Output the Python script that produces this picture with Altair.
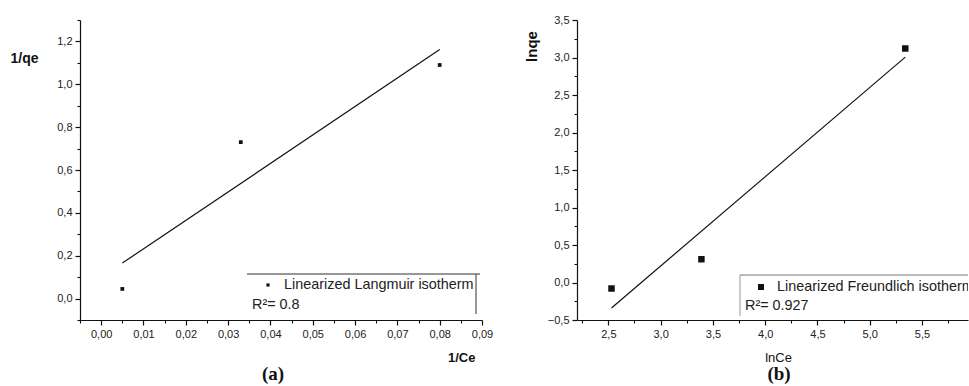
import altair as alt
import pandas as pd

# ---- data: panel (a) linearized Langmuir ----
inv_ce = [0.005, 0.033, 0.080]
inv_qe = [0.045, 0.73, 1.09]
# ---- data: panel (b) linearized Freundlich ----
ln_ce = [2.53, 3.39, 5.34]
ln_qe = [-0.08, 0.31, 3.12]

# tick positions
a_x_major = [0.0, 0.01, 0.02, 0.03, 0.04, 0.05, 0.06, 0.07, 0.08, 0.09]
a_x_minor = [-0.005, 0.005, 0.015, 0.025, 0.035, 0.045, 0.055, 0.065, 0.075, 0.085]
a_y_major = [0.0, 0.2, 0.4, 0.6, 0.8, 1.0, 1.2]
a_y_minor = [-0.1, 0.1, 0.3, 0.5, 0.7, 0.9, 1.1, 1.3]
b_x_major = [2.5, 3.0, 3.5, 4.0, 4.5, 5.0, 5.5]
b_x_minor = [2.25, 2.75, 3.25, 3.75, 4.25, 4.75, 5.25, 5.75]
b_y_major = [-0.5, 0.0, 0.5, 1.0, 1.5, 2.0, 2.5, 3.0, 3.5]
b_y_minor = [-0.25, 0.25, 0.75, 1.25, 1.75, 2.25, 2.75, 3.25]

a_legend = ["Linearized Langmuir isotherm"]
a_r2 = ["R\u00b2= 0.8"]
b_legend = ["Linearized Freundlich isotherm"]
b_r2 = ["R\u00b2= 0.927"]

INK = "#111111"
FONT = "Liberation Sans"


def major_axis(values, digits, orient, **kw):
    return alt.Axis(
        values=values, orient=orient,
        labelExpr=f"replace(format(datum.value, '.{digits}f'), '.', ',')",
        tickSize=5, labelOverlap=False, labelBound=False, labelFlush=False,
        grid=False, domainColor=INK, tickColor=INK, domainWidth=1.2, tickWidth=1.2,
        labelColor="#222222", labelFont=FONT, labelFontSize=11, labelPadding=3,
        titleColor=INK, titleFont=FONT, **kw)


def minor_axis(values, orient):
    return alt.Axis(values=values, orient=orient, labels=False, domain=False,
                    tickSize=3, tickColor=INK, tickWidth=1.1, grid=False, title=None)


def one(text):
    return pd.DataFrame({"t": text})


# ---------------- panel (a) ----------------
W_A, H = 402, 300
df_a = pd.DataFrame({"x": inv_ce, "y": inv_qe})
sx_a = alt.Scale(domain=[-0.005, 0.09], nice=False, zero=False)
sy_a = alt.Scale(domain=[-0.1, 1.3], nice=False, zero=False)

base_a = alt.Chart(df_a)
pts_a = base_a.mark_square(size=14, color=INK, opacity=1).encode(
    x=alt.X("x:Q", scale=sx_a,
            axis=major_axis(a_x_major, 2, "bottom", title="1/Ce", titleFontWeight="bold",
                            titleFontSize=13, titleAlign="right", titleX=395, titleY=37,
                            titleBaseline="middle")),
    y=alt.Y("y:Q", scale=sy_a,
            axis=major_axis(a_y_major, 1, "left", title="1/qe", titleFontWeight="bold",
                            titleFontSize=14, titleAngle=0, titleAlign="left", titleX=-70,
                            titleY=38, titleBaseline="middle")))
fit_a = base_a.transform_regression("x", "y").mark_line(color=INK, strokeWidth=1.2).encode(
    x=alt.X("x:Q", scale=sx_a, axis=minor_axis(a_x_minor, "bottom")),
    y=alt.Y("y:Q", scale=sy_a, axis=minor_axis(a_y_minor, "left")))

leg_a_top = alt.Chart(one([""])).mark_rule(color="#333333", strokeWidth=1).encode(
    x=alt.value(167), x2=alt.value(400), y=alt.value(254))
leg_a_right = alt.Chart(one([""])).mark_rule(color="#333333", strokeWidth=1).encode(
    x=alt.value(396), y=alt.value(254), y2=alt.value(294))
leg_a_mark = alt.Chart(one([""])).mark_square(size=10, color=INK, opacity=1).encode(
    x=alt.value(188), y=alt.value(265))
leg_a_text = alt.Chart(one(a_legend)).mark_text(
    align="left", baseline="middle", font=FONT, fontSize=14.4, color="#222222").encode(
    x=alt.value(204), y=alt.value(265), text="t:N")
leg_a_r2 = alt.Chart(one(a_r2)).mark_text(
    align="left", baseline="middle", font=FONT, fontSize=14.4, color="#222222").encode(
    x=alt.value(172), y=alt.value(285), text="t:N")
cap_a = alt.Chart(one(["(a)"])).mark_text(
    align="center", baseline="middle", font="Liberation Serif", fontSize=19,
    fontWeight="bold", color=INK).encode(x=alt.value(193), y=alt.value(354), text="t:N")
anchor = alt.Chart(one([""])).mark_rule(opacity=0, strokeWidth=0).encode(
    x=alt.value(-80), x2=alt.value(-80), y=alt.value(-20), y2=alt.value(-20))

panel_a = alt.layer(pts_a, fit_a, leg_a_top, leg_a_right, leg_a_mark, leg_a_text,
                    leg_a_r2, cap_a, anchor).resolve_axis(
    x="independent", y="independent").properties(width=W_A, height=H)

# ---------------- panel (b) ----------------
W_B = 391
df_b = pd.DataFrame({"x": ln_ce, "y": ln_qe})
sx_b = alt.Scale(domain=[2.2, 5.94], nice=False, zero=False)
sy_b = alt.Scale(domain=[-0.5, 3.5], nice=False, zero=False)

base_b = alt.Chart(df_b)
pts_b = base_b.mark_square(size=42, color=INK, opacity=1).encode(
    x=alt.X("x:Q", scale=sx_b,
            axis=major_axis(b_x_major, 1, "bottom", title="lnCe", titleFontWeight="normal",
                            titleFontSize=13, titleAlign="center", titleX=201, titleY=37,
                            titleBaseline="middle")),
    y=alt.Y("y:Q", scale=sy_b,
            axis=major_axis(b_y_major, 1, "left", title="lnqe", titleFontWeight="bold",
                            titleFontSize=15, titleAngle=270, titleAlign="center",
                            titleX=-46, titleY=26, titleBaseline="middle")))
fit_b = base_b.transform_regression("x", "y").mark_line(color=INK, strokeWidth=1.2).encode(
    x=alt.X("x:Q", scale=sx_b, axis=minor_axis(b_x_minor, "bottom")),
    y=alt.Y("y:Q", scale=sy_b, axis=minor_axis(b_y_minor, "left")))

leg_b_top = alt.Chart(one([""])).mark_rule(color="#777777", strokeWidth=1).encode(
    x=alt.value(163), x2=alt.value(W_B), y=alt.value(255))
leg_b_left = alt.Chart(one([""])).mark_rule(color="#999999", strokeWidth=1).encode(
    x=alt.value(163), y=alt.value(255), y2=alt.value(296))
leg_b_mark = alt.Chart(one([""])).mark_square(size=36, color=INK, opacity=1).encode(
    x=alt.value(184), y=alt.value(267))
leg_b_text = alt.Chart(one(b_legend)).mark_text(
    align="left", baseline="middle", font=FONT, fontSize=14.4, color="#222222", clip=True).encode(
    x=alt.value(200), y=alt.value(267), text="t:N")
leg_b_r2 = alt.Chart(one(b_r2)).mark_text(
    align="left", baseline="middle", font=FONT, fontSize=14.4, color="#222222").encode(
    x=alt.value(168), y=alt.value(286), text="t:N")
cap_b = alt.Chart(one(["(b)"])).mark_text(
    align="center", baseline="middle", font="Liberation Serif", fontSize=19,
    fontWeight="bold", color=INK).encode(x=alt.value(202), y=alt.value(354), text="t:N")

panel_b = alt.layer(pts_b, fit_b, leg_b_top, leg_b_left, leg_b_mark, leg_b_text,
                    leg_b_r2, cap_b).resolve_axis(
    x="independent", y="independent").properties(width=W_B, height=H)

chart = alt.hconcat(panel_a, panel_b, spacing=95, bounds="flush").properties(
    padding=0, background="white"
).configure_view(stroke=None)

chart.save("out.html", embed_options={"renderer": "svg", "actions": False})
